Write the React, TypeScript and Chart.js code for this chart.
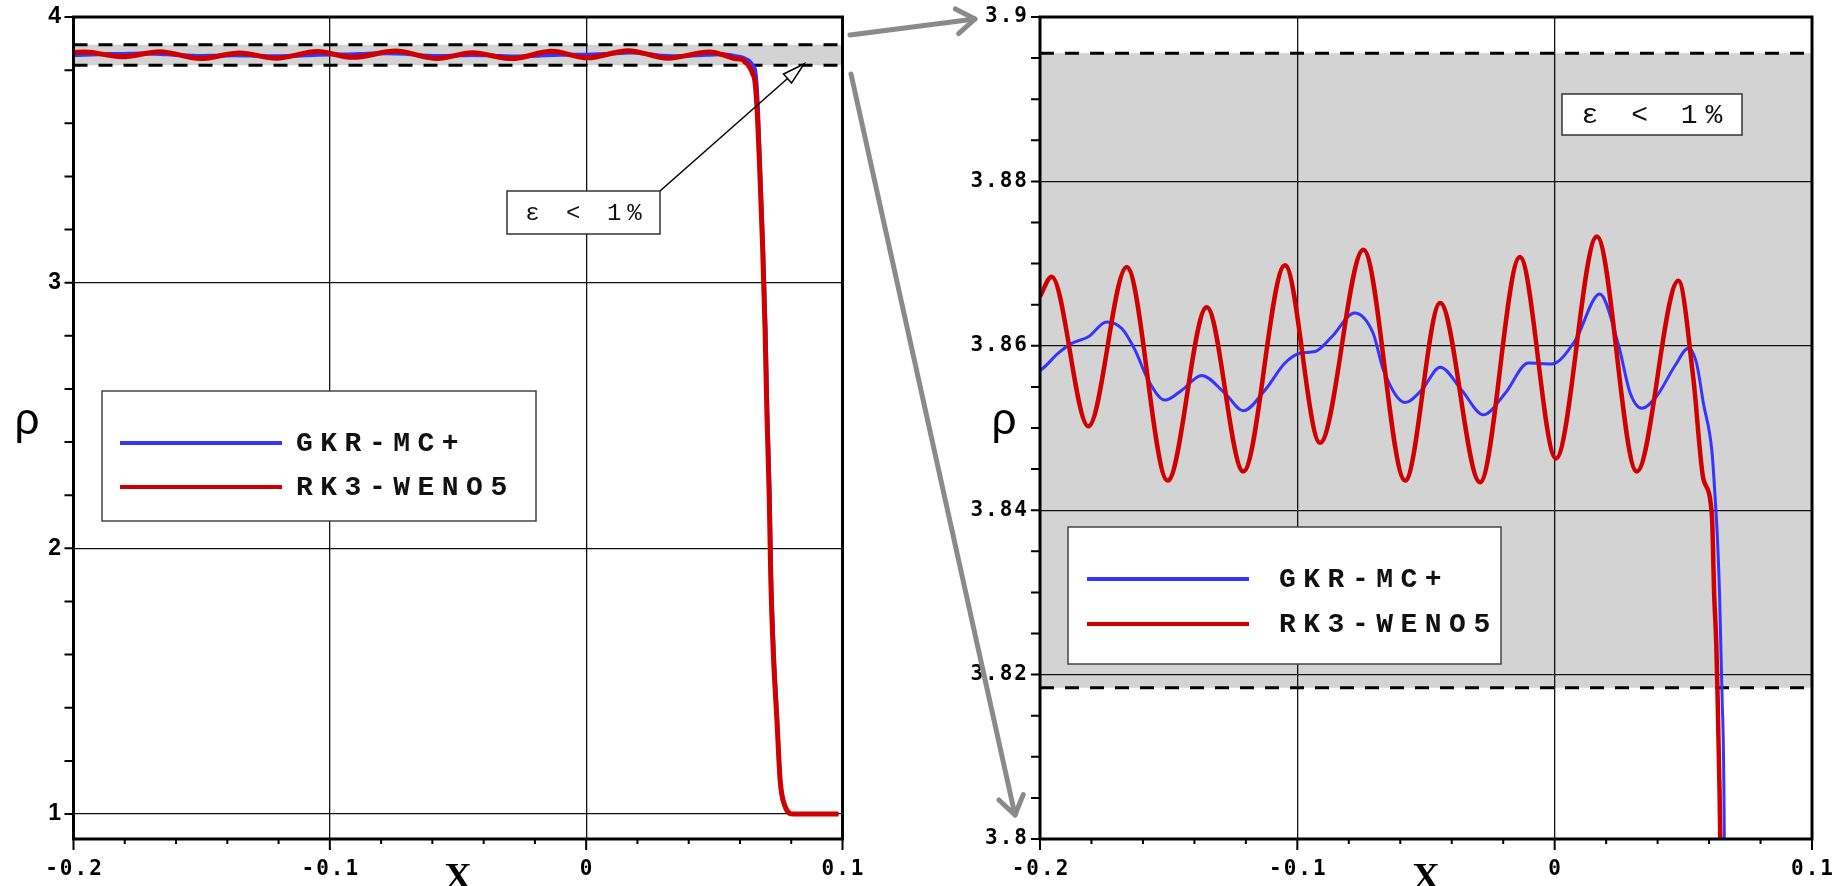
import React, { useEffect, useRef } from 'react';
import { Chart, registerables } from 'chart.js';

Chart.register(...registerables);

// ---------------- data ----------------
const seriesNames = ['GKR-MC+', 'RK3-WENO5'];

const gkrX = [
  -0.2, -0.1987, -0.1929, -0.1877, -0.1812, -0.1741, -0.1682, -0.1631, -0.1579, -0.1514,
  -0.1449, -0.1372, -0.1281, -0.121, -0.1126, -0.1048, -0.099, -0.0931, -0.0866, -0.0778,
  -0.0705, -0.0666, -0.0581, -0.0517, -0.0445, -0.0361, -0.0277, -0.0193, -0.0102, -0.0011,
  0.0079, 0.0175, 0.0248, 0.0293, 0.0339, 0.0397, 0.0468, 0.052, 0.0552, 0.0578,
  0.0611, 0.0624, 0.0633, 0.0641, 0.065, 0.066, 0.0668, 0.0678, 0.069, 0.07,
  0.0707, 0.0716, 0.0722, 0.0732, 0.0745, 0.0757, 0.0775, 0.0805, 0.0984,
];
const gkrY = [
  3.857, 3.8573, 3.8591, 3.8603, 3.8611, 3.8629, 3.8621, 3.8595, 3.8558, 3.8534,
  3.8546, 3.8564, 3.8542, 3.8521, 3.8546, 3.8579, 3.8591, 3.8593, 3.8611, 3.864,
  3.8615, 3.8571, 3.8531, 3.8546, 3.8574, 3.8546, 3.8516, 3.8542, 3.8579, 3.8578,
  3.8606, 3.8663, 3.8601, 3.8543, 3.8524, 3.8539, 3.8576, 3.8597, 3.8578, 3.853,
  3.8472, 3.8413, 3.8363, 3.8296, 3.818, 3.795, 3.7, 3.45, 3.14, 2.82,
  2.51, 2.2, 1.89, 1.61, 1.36, 1.12, 1.03, 1.0, 1.0,
];

const wenoX = [
  -0.2, -0.1955, -0.1812, -0.1663, -0.1504, -0.1352, -0.121, -0.1048, -0.0912, -0.0743,
  -0.0581, -0.0445, -0.029, -0.0135, 0.0005, 0.0164, 0.0319, 0.0481, 0.0539, 0.0578,
  0.0611, 0.062, 0.0628, 0.0633, 0.0641, 0.0648, 0.0658, 0.0666, 0.0676, 0.0688,
  0.0698, 0.0705, 0.0714, 0.072, 0.073, 0.0744, 0.0757, 0.0776, 0.0809, 0.0984,
];
const wenoY = [
  3.866, 3.8684, 3.8502, 3.8696, 3.8436, 3.8647, 3.8447, 3.8698, 3.8482, 3.8717,
  3.8436, 3.8652, 3.8434, 3.8708, 3.8463, 3.8733, 3.8447, 3.8679, 3.856, 3.8438,
  3.8394, 3.8296, 3.8238, 3.8175, 3.8054, 3.79, 3.76, 3.664, 3.452, 3.144,
  2.817, 2.51, 2.202, 1.894, 1.606, 1.356, 1.125, 1.029, 1.0, 1.0,
];

const bandLimits = [3.8184, 3.8956];
const bandLabel = 'ε < 1%';

const xMajorTicks = [-0.2, -0.1, 0, 0.1];
const xTickLabels = ['-0.2', '-0.1', '0', '0.1'];
const xMinorStep = 0.02;

const leftYMajorTicks = [1, 2, 3, 4];
const leftYTickLabels = ['1', '2', '3', '4'];
const leftYMinorStep = 0.2;

const rightYMajorTicks = [3.8, 3.82, 3.84, 3.86, 3.88, 3.9];
const rightYTickLabels = ['3.8', '3.82', '3.84', '3.86', '3.88', '3.9'];
const rightYMinorStep = 0.005;

// ---------------- helpers ----------------
const MONO = "'Liberation Mono', 'DejaVu Sans Mono', monospace";
const TICK_FONT = "bold 21px 'DejaVu Sans Mono', monospace";

function buildTicks(min: number, max: number, step: number, majors: number[]) {
  const out: any[] = [];
  const start = Math.ceil(min / step - 1e-9);
  for (let k = start; k * step <= max + 1e-9; k++) {
    const v = +(k * step).toFixed(6);
    out.push({ value: v, isMajor: majors.some((m) => Math.abs(m - v) < 1e-7) });
  }
  return out;
}

function labelFor(v: number, majors: number[], labels: string[]) {
  const i = majors.findIndex((m) => Math.abs(m - v) < 1e-7);
  return i >= 0 ? labels[i] : '';
}

const gridColor = (c: any) => (c.tick && c.tick.isMajor ? '#111' : 'rgba(0,0,0,0)');

function spacedText(
  ctx: CanvasRenderingContext2D,
  text: string,
  x: number,
  y: number,
  align: 'left' | 'center' | 'right',
  font: string,
  spacing: number
) {
  ctx.font = font;
  (ctx as any).letterSpacing = spacing + 'px';
  ctx.textAlign = 'left';
  ctx.textBaseline = 'middle';
  const w = ctx.measureText(text).width - spacing;
  const x0 = align === 'left' ? x : align === 'center' ? x - w / 2 : x - w;
  ctx.fillText(text, x0, y);
  (ctx as any).letterSpacing = '0px';
}

function drawArrowHeadOpen(ctx: CanvasRenderingContext2D, from: number[], to: number[]) {
  const dx = to[0] - from[0];
  const dy = to[1] - from[1];
  const len = Math.hypot(dx, dy);
  const ux = dx / len, uy = dy / len;
  const L = 22, W = 6;
  const bx = to[0] - ux * L, by = to[1] - uy * L;
  ctx.beginPath();
  ctx.moveTo(to[0], to[1]);
  ctx.lineTo(bx - uy * W, by + ux * W);
  ctx.lineTo(bx + uy * W, by - ux * W);
  ctx.closePath();
  ctx.fillStyle = '#fff';
  ctx.fill();
  ctx.stroke();
}

const decorPlugin = {
  id: 'decor',
  beforeDraw(chart: any) {
    const ctx = chart.ctx as CanvasRenderingContext2D;
    const { left, right, top, bottom } = chart.chartArea;
    const ys = chart.scales.y;
    const yHi = Math.max(top, Math.min(bottom, ys.getPixelForValue(bandLimits[1])));
    const yLo = Math.max(top, Math.min(bottom, ys.getPixelForValue(bandLimits[0])));
    ctx.save();
    ctx.fillStyle = '#d3d3d3';
    ctx.fillRect(left, yHi, right - left, yLo - yHi);
    ctx.restore();
  },
  beforeDatasetsDraw(chart: any) {
    const ctx = chart.ctx as CanvasRenderingContext2D;
    const { left, right } = chart.chartArea;
    const ys = chart.scales.y;
    ctx.save();
    ctx.strokeStyle = '#000';
    ctx.lineWidth = 3;
    ctx.setLineDash([14, 11]);
    bandLimits.forEach((b) => {
      const py = ys.getPixelForValue(b);
      ctx.beginPath();
      ctx.moveTo(left, py);
      ctx.lineTo(right, py);
      ctx.stroke();
    });
    ctx.restore();
  },
  afterDatasetsDraw(chart: any, _a: any, o: any) {
    const ctx = chart.ctx as CanvasRenderingContext2D;
    const { left, right, top, bottom } = chart.chartArea;
    const xs = chart.scales.x;
    const ys = chart.scales.y;
    ctx.save();
    // tick marks
    ctx.strokeStyle = '#000';
    ctx.lineWidth = 2;
    ctx.beginPath();
    xs.ticks.forEach((t: any) => {
      const px = xs.getPixelForValue(t.value);
      ctx.moveTo(px, bottom);
      ctx.lineTo(px, bottom + (t.isMajor ? 11 : 5));
    });
    ys.ticks.forEach((t: any) => {
      const py = ys.getPixelForValue(t.value);
      ctx.moveTo(left - 9, py);
      ctx.lineTo(left, py);
    });
    ctx.stroke();
    // frame
    ctx.lineWidth = 3;
    ctx.strokeRect(left, top, right - left, bottom - top);

    // tick labels
    ctx.fillStyle = '#000';
    xs.ticks.forEach((t: any) => {
      const s = labelFor(t.value, xMajorTicks, xTickLabels);
      if (s) spacedText(ctx, s, xs.getPixelForValue(t.value), o.xLabelY, 'center', TICK_FONT, 2);
    });
    ys.ticks.forEach((t: any) => {
      const s = labelFor(t.value, o.yMajors, o.yLabels);
      if (s) spacedText(ctx, s, o.yLabelRight, ys.getPixelForValue(t.value), 'right', o.yFont, o.ySpacing);
    });

    // legend
    const lg = o.legend;
    ctx.fillStyle = '#fff';
    ctx.fillRect(lg.x, lg.y, lg.w, lg.h);
    ctx.strokeStyle = '#444';
    ctx.lineWidth = 1.5;
    ctx.strokeRect(lg.x, lg.y, lg.w, lg.h);
    seriesNames.forEach((name, i) => {
      const ds = chart.data.datasets.find((d: any) => d.label === name);
      ctx.strokeStyle = ds.borderColor;
      ctx.lineWidth = 4;
      ctx.beginPath();
      ctx.moveTo(lg.line[0], lg.rows[i]);
      ctx.lineTo(lg.line[1], lg.rows[i]);
      ctx.stroke();
      ctx.fillStyle = '#111';
      spacedText(ctx, name, lg.textX, lg.rows[i] + 1, 'left', `bold 28px ${MONO}`, 7.5);
    });

    // epsilon box
    const e = o.eps;
    ctx.fillStyle = '#fff';
    ctx.fillRect(e.x, e.y, e.w, e.h);
    ctx.strokeStyle = '#333';
    ctx.lineWidth = 1.5;
    ctx.strokeRect(e.x, e.y, e.w, e.h);
    ctx.fillStyle = '#111';
    spacedText(ctx, bandLabel, e.x + e.w / 2, e.y + e.h / 2 + 1, 'center', `${e.fontSize}px ${MONO}`, e.spacing);

    // pointer arrow
    if (o.arrow) {
      ctx.strokeStyle = '#000';
      ctx.lineWidth = 1.5;
      ctx.beginPath();
      ctx.moveTo(o.arrow.from[0], o.arrow.from[1]);
      ctx.lineTo(o.arrow.to[0], o.arrow.to[1]);
      ctx.stroke();
      drawArrowHeadOpen(ctx, o.arrow.from, o.arrow.to);
    }

    // axis titles
    (ctx as any).letterSpacing = '0px';
    ctx.fillStyle = '#000';
    ctx.textAlign = 'center';
    ctx.textBaseline = 'alphabetic';
    ctx.font = "44px 'Liberation Sans', sans-serif";
    ctx.fillText('ρ', o.rho[0], o.rho[1]);
    ctx.font = "bold 38px 'Liberation Serif', serif";
    ctx.fillText('X', (left + right) / 2, o.xTitleY);
    ctx.restore();
  },
};

function makeConfig(panel: 'left' | 'right') {
  const isLeft = panel === 'left';
  const canvasW = isLeft ? 900 : 937;
  const plotLeft = isLeft ? 73.5 : 140;
  const plotRight = isLeft ? 842.5 : 912;
  const yMin = isLeft ? 0.906 : 3.8;
  const yMax = isLeft ? 4 : 3.9;
  const yMajors = isLeft ? leftYMajorTicks : rightYMajorTicks;
  const yLabels = isLeft ? leftYTickLabels : rightYTickLabels;
  const yStep = isLeft ? leftYMinorStep : rightYMinorStep;

  const decor = isLeft
    ? {
        legend: { x: 102, y: 391, w: 434, h: 130, line: [120, 282], textX: 296, rows: [443, 487] },
        eps: { x: 507, y: 191, w: 153, h: 43, fontSize: 24, spacing: 6 },
        arrow: { from: [660, 191], to: [804, 64] },
        rho: [27, 434],
        xTitleY: 889,
        xLabelY: 870,
        yMajors,
        yLabels,
        yLabelRight: 61,
        yFont: "bold 23px 'Liberation Sans', sans-serif",
        ySpacing: 0,
      }
    : {
        legend: { x: 168, y: 527, w: 433, h: 137, line: [187, 349], textX: 379, rows: [579, 624] },
        eps: { x: 662, y: 94, w: 180, h: 41, fontSize: 28, spacing: 8 },
        arrow: null,
        rho: [104, 434],
        xTitleY: 889,
        xLabelY: 870,
        yMajors,
        yLabels,
        yLabelRight: 127,
        yFont: TICK_FONT,
        ySpacing: 2,
      };

  return {
    type: 'line',
    data: {
      datasets: [
        {
          label: seriesNames[1],
          data: wenoX.map((x, i) => ({ x, y: wenoY[i] })),
          borderColor: '#d00000',
          borderWidth: isLeft ? 5 : 4.5,
          pointRadius: 0,
          cubicInterpolationMode: 'monotone',
          borderJoinStyle: 'round',
          fill: false,
          clip: 0,
        },
        {
          label: seriesNames[0],
          data: gkrX.map((x, i) => ({ x, y: gkrY[i] })),
          borderColor: '#3535ff',
          borderWidth: isLeft ? 4 : 3,
          pointRadius: 0,
          cubicInterpolationMode: 'monotone',
          borderJoinStyle: 'round',
          fill: false,
          clip: 0,
        },
      ],
    },
    options: {
      animation: false,
      responsive: false,
      devicePixelRatio: 1,
      events: [],
      layout: { padding: { left: 0, top: 17, right: canvasW - plotRight, bottom: 0 } },
      plugins: {
        legend: { display: false },
        tooltip: { enabled: false },
        decor,
      },
      scales: {
        x: {
          type: 'linear',
          min: -0.2,
          max: 0.1,
          afterBuildTicks: (s: any) => {
            s.ticks = buildTicks(-0.2, 0.1, xMinorStep, xMajorTicks);
          },
          afterFit: (s: any) => {
            s.height = 47;
          },
          border: { display: false },
          grid: { color: gridColor, lineWidth: 1.3, drawTicks: false },
          ticks: { display: false },
        },
        y: {
          type: 'linear',
          min: yMin,
          max: yMax,
          afterBuildTicks: (s: any) => {
            s.ticks = buildTicks(yMin, yMax, yStep, yMajors);
          },
          afterFit: (s: any) => {
            s.width = plotLeft;
          },
          border: { display: false },
          grid: { color: gridColor, lineWidth: 1.3, drawTicks: false },
          ticks: { display: false },
        },
      },
    },
    plugins: [decorPlugin],
  } as any;
}

function ChartCanvas({ panel, left, width }: { panel: 'left' | 'right'; left: number; width: number }) {
  const ref = useRef<HTMLCanvasElement | null>(null);
  useEffect(() => {
    if (!ref.current) return;
    const chart = new Chart(ref.current, makeConfig(panel));
    return () => chart.destroy();
  }, [panel]);
  return (
    <canvas
      ref={ref}
      width={width}
      height={886}
      style={{ position: 'absolute', left, top: 0, width, height: 886 }}
    />
  );
}

function chevron(from: number[], to: number[], len: number, ang: number) {
  const a = Math.atan2(to[1] - from[1], to[0] - from[0]);
  const p1 = [to[0] - len * Math.cos(a - ang), to[1] - len * Math.sin(a - ang)];
  const p2 = [to[0] - len * Math.cos(a + ang), to[1] - len * Math.sin(a + ang)];
  return `${p1[0]},${p1[1]} ${to[0]},${to[1]} ${p2[0]},${p2[1]}`;
}

export default function App() {
  const a1 = { from: [850, 35], to: [975, 19] };
  const a2 = { from: [851, 74], to: [1015, 815] };
  return (
    <div
      style={{
        position: 'absolute',
        left: 0,
        top: 0,
        width: 1837,
        height: 886,
        background: '#fff',
        overflow: 'hidden',
      }}
    >
      <ChartCanvas panel="left" left={0} width={900} />
      <ChartCanvas panel="right" left={900} width={937} />
      <svg
        width={1837}
        height={886}
        style={{ position: 'absolute', left: 0, top: 0, pointerEvents: 'none' }}
      >
        <g stroke="#8a8a8a" strokeWidth={5} fill="none" strokeLinecap="round" strokeLinejoin="round">
          <line x1={a1.from[0]} y1={a1.from[1]} x2={a1.to[0]} y2={a1.to[1]} />
          <polyline points={chevron(a1.from, a1.to, 22, 0.6)} />
          <line x1={a2.from[0]} y1={a2.from[1]} x2={a2.to[0]} y2={a2.to[1]} />
          <polyline points={chevron(a2.from, a2.to, 22, 0.6)} />
        </g>
      </svg>
    </div>
  );
}
